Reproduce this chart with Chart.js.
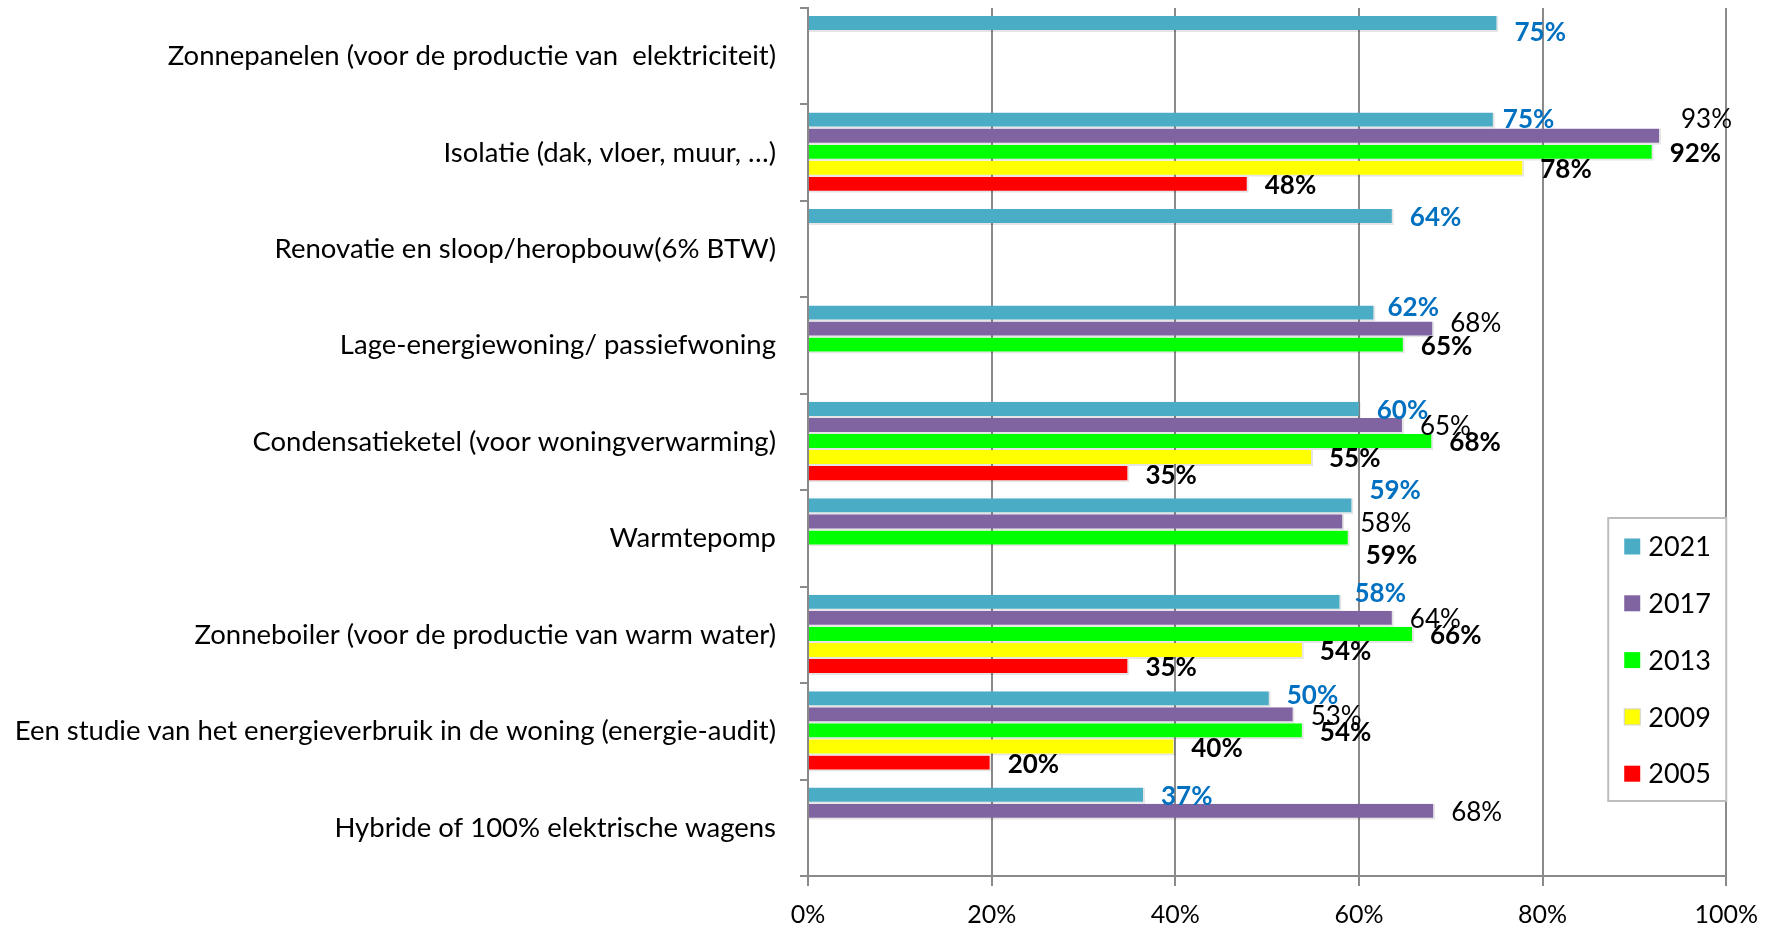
<!DOCTYPE html>
<html>
<head>
<meta charset="utf-8">
<script src="https://cdn.jsdelivr.net/npm/chart.js@4.4.1/dist/chart.umd.min.js"></script>
<style>
  html, body { margin: 0; padding: 0; background: #fff; }
  #wrap { width: 1772px; height: 925px; position: relative; }
</style>
</head>
<body>
<div id="wrap"><canvas id="c" width="1772" height="925"></canvas></div>
<script>
// canvas fonts can't fall back to Calibri here, Lato is the closest installed
const FONT = "Lato, 'Open Sans', sans-serif";
const GRID = "#8a8a8a";

const categories = [
  "Zonnepanelen (voor de productie van  elektriciteit)",
  "Isolatie (dak, vloer, muur, …)",
  "Renovatie en sloop/heropbouw(6% BTW)",
  "Lage-energiewoning/ passiefwoning",
  "Condensatieketel (voor woningverwarming)",
  "Warmtepomp",
  "Zonneboiler (voor de productie van warm water)",
  "Een studie van het energieverbruik in de woning (energie-audit)",
  "Hybride of 100% elektrische wagens",
];

const years = ["2021", "2017", "2013", "2009", "2005"];
const colors = ["#4bacc6", "#8064a2", "#00ff00", "#ffff00", "#ff0000"];

// percentages
const v2021 = [75.2, 74.8, 63.8, 61.8, 60.2, 59.4, 58.1, 50.4, 36.7];
const v2017 = [null, 92.9, null, 68.2, 64.9, 58.4, 63.8, 53.0, 68.3];
const v2013 = [null, 92.1, null, 65.0, 68.1, 59.0, 66.0, 54.0, null];
const v2009 = [null, 78.0, null, null, 55.0, null, 54.0, 40.0, null];
const v2005 = [null, 48.0, null, null, 35.0, null, 35.0, 20.0, null];

const xTicks = [0, 20, 40, 60, 80, 100];

const series = [v2021, v2017, v2013, v2009, v2005];

// label look per series: 2021 blue bold, 2017 plain, the rest bold black
const labelStyle = [
  { color: "#0070c0", weight: "bold" },
  { color: "#000", weight: "normal" },
  { color: "#000", weight: "bold" },
  { color: "#000", weight: "bold" },
  { color: "#000", weight: "bold" },
];

// a few labels sit off-centre in the original (dataset:index -> [dx, dy])
const labelNudge = {
  "0:0": [0, 8],
  "0:1": [-8, -2],
  "1:1": [4, -18],
  "0:3": [-4, -7],
  "1:3": [0, -7],
  "0:5": [0, -17],
  "2:5": [0, 16],
  "0:6": [-3, -10],
  "0:7": [0, -5],
};

const valueLabels = {
  id: "valueLabels",
  afterDatasetsDraw(chart) {
    const ctx = chart.ctx;
    ctx.save();
    ctx.textBaseline = "middle";
    ctx.textAlign = "left";
    chart.data.datasets.forEach((ds, di) => {
      const meta = chart.getDatasetMeta(di);
      const st = labelStyle[di];
      ctx.font = st.weight + " 26px " + FONT;
      ctx.fillStyle = st.color;
      meta.data.forEach((bar, i) => {
        const v = ds.data[i];
        if (v == null) return;
        const n = labelNudge[di + ":" + i] || [0, 0];
        ctx.fillText(Math.round(v) + "%", bar.x + 16 + n[0], bar.y + 1 + n[1]);
      });
    });
    ctx.restore();
  },
};

// boxed legend drawn inside the plot, against the 100% line
const boxLegend = {
  id: "boxLegend",
  afterDraw(chart) {
    const ctx = chart.ctx;
    const right = chart.chartArea.right;
    const left = right - 118;
    const top = 518;
    const bottom = 801;
    ctx.save();
    ctx.fillStyle = "#fff";
    ctx.fillRect(left, top, right - left, bottom - top);
    ctx.strokeStyle = "#bdbdbd";
    ctx.lineWidth = 2;
    ctx.strokeRect(left, top, right - left, bottom - top);
    ctx.font = "27px " + FONT;
    ctx.textBaseline = "middle";
    ctx.textAlign = "left";
    chart.data.datasets.forEach((ds, i) => {
      const cy = top + 28.5 + i * 56.8;
      ctx.fillStyle = ds.backgroundColor;
      ctx.fillRect(left + 16, cy - 8, 16, 16);
      if (i === 3) {
        ctx.strokeStyle = "#d0d0d0";
        ctx.lineWidth = 1;
        ctx.strokeRect(left + 16, cy - 8, 16, 16);
      }
      ctx.fillStyle = "#000";
      ctx.fillText(ds.label, left + 40, cy + 1);
    });
    ctx.restore();
  },
};

new Chart(document.getElementById("c"), {
  type: "bar",
  data: {
    labels: categories,
    datasets: years.map((y, i) => ({
      label: y,
      data: series[i],
      backgroundColor: colors[i],
      borderColor: "rgba(0,0,0,0.10)",
      borderWidth: { top: 0, left: 0, right: 2, bottom: 2 },
      borderSkipped: false,
      categoryPercentage: 0.833,
      barPercentage: 1.0,
    })),
  },
  options: {
    indexAxis: "y",
    responsive: false,
    devicePixelRatio: 1,
    animation: false,
    layout: { padding: { top: 8, right: 45, left: 0, bottom: 0 } },
    plugins: { legend: { display: false }, tooltip: { enabled: false } },
    scales: {
      x: {
        min: 0,
        max: 100,
        afterBuildTicks: (s) => { s.ticks = xTicks.map((v) => ({ value: v })); },
        afterFit: (s) => { s.height = 49; },
        grid: { color: GRID, lineWidth: 2, tickLength: 10 },
        border: { color: GRID, width: 2 },
        ticks: {
          color: "#000",
          padding: 14,
          font: { family: FONT, size: 25 },
          callback: (v) => v + "%",
        },
      },
      y: {
        afterFit: (s) => {
          s.width = 808;
          s.paddingTop = 0;
          s.paddingBottom = 0;
        },
        grid: { offset: true, drawOnChartArea: false, color: GRID, lineWidth: 2, tickLength: 8 },
        border: { color: GRID, width: 2 },
        ticks: {
          color: "#000",
          padding: 24,
          font: { family: FONT, size: 27.5 },
        },
      },
    },
  },
  plugins: [valueLabels, boxLegend],
});
</script>
</body>
</html>
